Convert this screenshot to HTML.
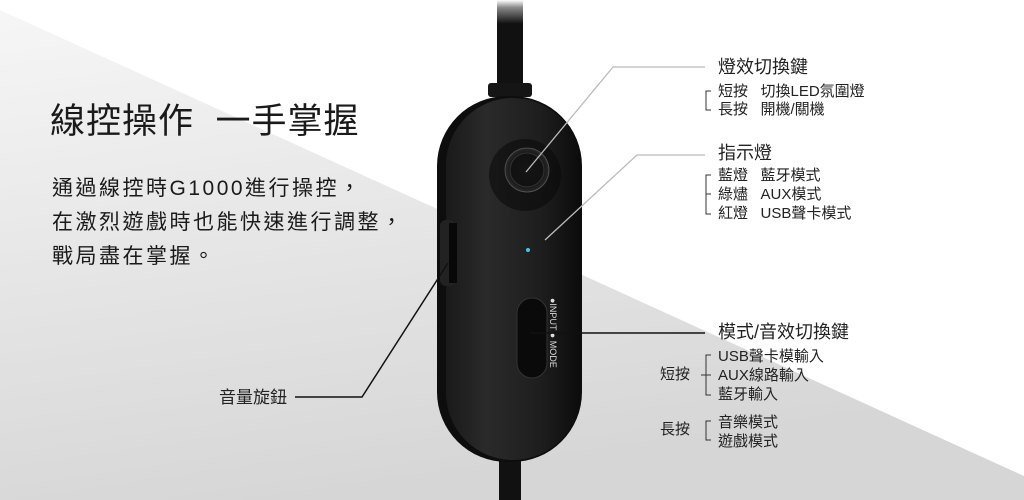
<!DOCTYPE html>
<html><head><meta charset="utf-8"><style>
html,body{margin:0;padding:0}
body{width:1024px;height:500px;position:relative;overflow:hidden;background:#fff;font-family:"Liberation Sans","Noto Sans CJK TC",sans-serif;color:#222}
.t{position:absolute;white-space:nowrap;line-height:1}
</style></head><body>
<svg width="1024" height="500" style="position:absolute;left:0;top:0">
<defs>
<linearGradient id="bg" x1="0" y1="0" x2="0.3" y2="1">
<stop offset="0" stop-color="#f6f6f6"/><stop offset="1" stop-color="#d6d6d6"/></linearGradient>
<linearGradient id="cab" x1="0" y1="0" x2="0" y2="1">
<stop offset="0" stop-color="#fff"/><stop offset="0.08" stop-color="#888"/><stop offset="0.25" stop-color="#111"/><stop offset="1" stop-color="#111"/></linearGradient>
<linearGradient id="body" x1="0" y1="0" x2="1" y2="0">
<stop offset="0" stop-color="#1a1a1a"/><stop offset="0.3" stop-color="#2a2a2a"/><stop offset="0.7" stop-color="#1e1e1e"/><stop offset="1" stop-color="#0c0c0c"/></linearGradient>
<radialGradient id="btn" cx="0.5" cy="0.5" r="0.5"><stop offset="0" stop-color="#151515"/><stop offset="0.7" stop-color="#111"/><stop offset="1" stop-color="#2a2a2a"/></radialGradient>
</defs>
<polygon points="0,10 1024,476 1024,500 0,500" fill="url(#bg)"/>
<rect x="497" y="0" width="26" height="95" fill="url(#cab)"/>
<rect x="499" y="455" width="22" height="45" fill="#111"/>
<rect x="488" y="83" width="44" height="14" rx="3" fill="#151515"/>
<rect x="437" y="96" width="145" height="366" rx="70" fill="#0d0d0d"/>
<rect x="446" y="98" width="134" height="362" rx="67" fill="url(#body)"/>
<rect x="440" y="220" width="16" height="66" rx="6" fill="#222"/>
<rect x="449" y="223" width="8" height="60" fill="#080808"/>
<circle cx="525" cy="175" r="36" fill="#0a0a0a" opacity="0.6"/>
<circle cx="527" cy="170" r="22" fill="url(#btn)" stroke="#555" stroke-width="0.8"/>
<circle cx="527" cy="170" r="17" fill="none" stroke="#333" stroke-width="1"/>
<circle cx="528" cy="250" r="2" fill="#4cc4e0"/>
<rect x="517" y="298" width="30" height="80" rx="15" fill="#0a0a0a" stroke="#333" stroke-width="1"/>
<text x="0" y="0" transform="translate(550,298) rotate(90)" font-size="9" fill="#ddd" font-family="Liberation Sans">●INPUT ● MODE</text>
<polyline points="526,172 613,67 705,67" fill="none" stroke="#bbb" stroke-width="1.3"/>
<polyline points="545,240 637,155 705,155" fill="none" stroke="#bbb" stroke-width="1.3"/>
<line x1="530" y1="333" x2="705" y2="333" stroke="#111" stroke-width="1.5"/>
<polyline points="295,397 362,397 448,263" fill="none" stroke="#111" stroke-width="1.5"/>
<g fill="none" stroke="#333" stroke-width="1">
<polyline points="711,91 706,91 706,110 711,110"/>
<polyline points="711,175 706,175 706,214 711,214"/>
<line x1="706" y1="194" x2="711" y2="194"/>
<polyline points="711,355 706,355 706,395 711,395"/>
<line x1="701" y1="375" x2="711" y2="375"/>
<polyline points="711,421 706,421 706,440 711,440"/>
</g>
</svg>
<div class="t" style="left:50px;top:104px;font-size:35px;letter-spacing:1px;color:#1a1a1a">線控操作&nbsp;&nbsp;一手掌握</div>
<div class="t" style="left:52px;top:172px;font-size:21px;letter-spacing:2.5px;line-height:34px;color:#1a1a1a">通過線控時G1000進行操控，<br>在激烈遊戲時也能快速進行調整，<br>戰局盡在掌握。</div>
<div class="t" style="left:219px;top:389px;font-size:17px">音量旋鈕</div>
<div class="t" style="left:718px;top:58px;font-size:18px">燈效切換鍵</div>
<div class="t" style="left:718px;top:83px;font-size:15px;line-height:18px">短按&nbsp;&nbsp;&nbsp;切換LED氛圍燈<br>長按&nbsp;&nbsp;&nbsp;開機/關機</div>
<div class="t" style="left:718px;top:144px;font-size:18px">指示燈</div>
<div class="t" style="left:718px;top:166px;font-size:15px;line-height:19px">藍燈&nbsp;&nbsp;&nbsp;藍牙模式<br>綠燼&nbsp;&nbsp;&nbsp;AUX模式<br>紅燈&nbsp;&nbsp;&nbsp;USB聲卡模式</div>
<div class="t" style="left:718px;top:323px;font-size:18px">模式/音效切換鍵</div>
<div class="t" style="left:718px;top:347px;font-size:15px;line-height:19px">USB聲卡模輸入<br>AUX線路輸入<br>藍牙輸入</div>
<div class="t" style="left:718px;top:413px;font-size:15px;line-height:19px">音樂模式<br>遊戲模式</div>
<div class="t" style="left:660px;top:367px;font-size:15px">短按</div>
<div class="t" style="left:660px;top:422px;font-size:15px">長按</div>
</body></html>
